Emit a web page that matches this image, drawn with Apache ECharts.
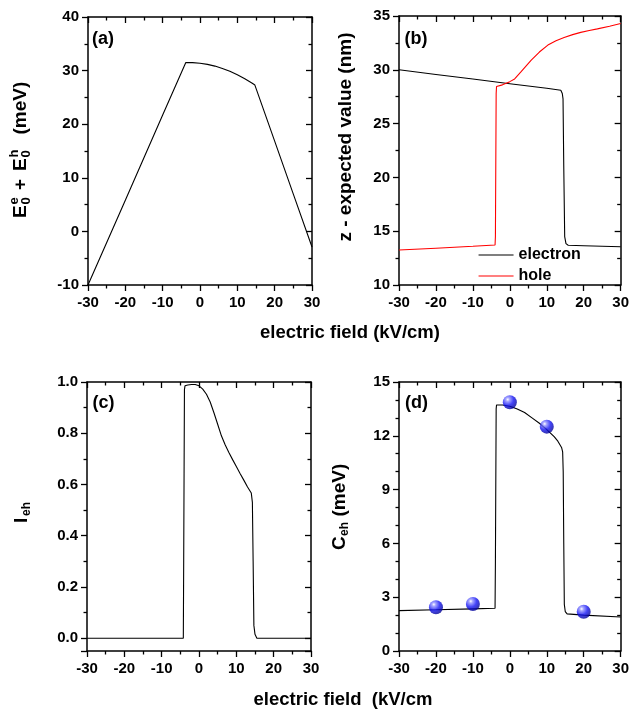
<!DOCTYPE html>
<html>
<head>
<meta charset="utf-8">
<script src="https://cdn.jsdelivr.net/npm/echarts@6/dist/echarts.min.js"></script>
<style>
  html, body { margin: 0; padding: 0; background: #fff; }
  #chart { width: 632px; height: 710px; }
</style>
</head>
<body>
<div id="chart"></div>
<script>
// ---- data -------------------------------------------------------------
// (a) ground-state energy sum vs electric field
const fieldA  = [-30, -20, -10, -3.8, -2, 0, 2, 4, 6, 8, 10, 12, 14, 14.7, 20, 25, 30];
const energyA = [-10, 5.8, 21.7, 31.5, 31.49, 31.38, 31.16, 30.84, 30.41, 29.88, 29.23, 28.48, 27.63, 27.3, 16.85, 6.95, -2.9];

// (b) z expected values of electron and hole
const fieldElectron = [-30, -20, -10, 0, 10, 13.8, 14.2, 14.4, 14.6, 14.85, 15.2, 15.8, 20, 30];
const zElectron     = [30.0, 29.57, 29.14, 28.71, 28.28, 28.1, 27.8, 27.3, 21.0, 14.5, 13.85, 13.7, 13.65, 13.55];
const fieldHole = [-30, -20, -10, -4.0, -3.9, -3.7, -3.6, -2, 0, 1.3, 3, 5.8, 8, 10.3, 12.5, 14.7, 17, 19.2, 21.5, 23.7, 27, 30];
const zHole     = [13.25, 13.42, 13.6, 13.72, 14.5, 27.8, 28.45, 28.6, 28.9, 29.15, 29.8, 30.9, 31.65, 32.3, 32.7, 33.0, 33.27, 33.48, 33.65, 33.8, 34.05, 34.3];

// (c) electron-hole overlap
const fieldC   = [-30, -4.2, -4.1, -3.9, -3.75, -3, -2, -1, 0, 1, 2, 3, 4, 5, 6, 7, 8, 9, 10, 11, 12, 13, 14, 14.1, 14.3, 14.5, 14.7, 15.0, 15.5, 30];
const overlapC = [0, 0, 0.3, 0.97, 0.985, 0.988, 0.99, 0.99, 0.985, 0.972, 0.952, 0.922, 0.88, 0.835, 0.79, 0.755, 0.725, 0.697, 0.67, 0.643, 0.617, 0.59, 0.567, 0.564, 0.53, 0.3, 0.05, 0.015, 0, 0];

// (d) Coulomb energy: calculated curve and points
const fieldD   = [-30, -20, -10, -4.0, -3.9, -3.7, -3.6, -2, 0, 2, 4, 6, 8, 10, 12, 13, 14, 14.3, 14.45, 14.6, 14.75, 15.0, 15.5, 20, 30];
const coulombD = [2.25, 2.3, 2.35, 2.38, 5.0, 13.5, 13.72, 13.72, 13.65, 13.5, 13.3, 13.0, 12.7, 12.35, 11.95, 11.7, 11.35, 11.1, 10.0, 6.0, 2.6, 2.2, 2.07, 2.0, 1.9];
const pointField   = [-20, -10, 0, 10, 20];
const pointCoulomb = [2.44, 2.62, 13.87, 12.51, 2.19];

// axis ranges
const fieldTicks   = { min: -30, max: 30, step: 10 };
const overlapRange = { min: -0.05, max: 1.0, splitNumber: 5 };

const seriesNames = ['electron', 'hole'];

// ---- helpers ----------------------------------------------------------
const FONT = '"Liberation Sans", Arial, Helvetica, sans-serif';
const pairs = (xs, ys) => xs.map((x, i) => [x, ys[i]]);
const black = '#000';

function axisBase(gridIndex, pos, inside, showLabel) {
  return {
    type: 'value', gridIndex: gridIndex, position: pos,
    axisLine: { show: true, onZero: false, lineStyle: { color: black, width: 1.5 } },
    axisTick: { show: true, inside: inside, length: 6, lineStyle: { color: black, width: 1.3 } },
    minorTick: { show: true, splitNumber: 2, length: 3.5, lineStyle: { color: black, width: 1.3 } },
    axisLabel: { show: showLabel, color: black, fontFamily: FONT, fontWeight: 'bold', fontSize: 15, margin: 9 },
    splitLine: { show: false }
  };
}

function xPair(gridIndex) {
  const bottom = axisBase(gridIndex, 'bottom', false, true);
  const top = axisBase(gridIndex, 'top', true, false);
  [bottom, top].forEach(a => { a.min = fieldTicks.min; a.max = fieldTicks.max; a.interval = fieldTicks.step; });
  bottom.axisLabel.margin = 10;
  return [bottom, top];
}

function yPair(gridIndex, min, max, interval, minorSplit) {
  const left = axisBase(gridIndex, 'left', false, true);
  const right = axisBase(gridIndex, 'right', true, false);
  [left, right].forEach(a => {
    a.min = min; a.max = max; a.interval = interval;
    a.minorTick.splitNumber = minorSplit;
  });
  return [left, right];
}

// (c) starts a little below zero; the scale picks 0.2 steps from 0 up
function yOverlapAxes(gridIndex) {
  return [['left', false], ['right', true]].map(([pos, inside]) => {
    const ax = axisBase(gridIndex, pos, inside, pos === 'left');
    ax.min = overlapRange.min; ax.max = overlapRange.max;
    ax.splitNumber = overlapRange.splitNumber;
    ax.axisLabel.showMinLabel = false;
    ax.axisLabel.formatter = v => (v < 0 ? '' : v.toFixed(1));
    return ax;
  });
}

// vertical axis titles built from pieces (for sub/superscripts)
function rotatedTitle(cx, cy, parts) {
  return {
    type: 'group', x: cx, y: cy, rotation: Math.PI / 2, silent: true,
    children: parts.map(p => ({
      type: 'text', x: p.x, y: p.y || 0,
      style: {
        text: p.t, fill: black,
        font: 'bold ' + p.s + 'px ' + FONT,
        textAlign: p.align || 'left', align: p.align || 'left',
        textVerticalAlign: 'middle', verticalAlign: 'middle'
      }
    }))
  };
}

function plainText(x, y, text, size) {
  return {
    type: 'text', x: x, y: y, silent: true,
    style: {
      text: text, fill: black, font: 'bold ' + size + 'px ' + FONT,
      textAlign: 'center', align: 'center',
      textVerticalAlign: 'middle', verticalAlign: 'middle'
    }
  };
}

// ---- chart ------------------------------------------------------------
const chart = echarts.init(document.getElementById('chart'), null, { renderer: 'canvas' });

const xAxes = [].concat(xPair(0), xPair(1), xPair(2), xPair(3));
const yAxes = [].concat(
  yPair(0, -10, 40, 10, 2),      // 0,1
  yPair(1, 10, 35, 5, 2),        // 2,3
  yOverlapAxes(2),               // 4,5
  yPair(3, 0, 15, 3, 3)          // 6,7
);

const lineStyle = { color: black, width: 1.1 };

const option = {
  animation: false,
  backgroundColor: '#fff',
  grid: [
    { left: 88,  top: 17,  width: 224, height: 268 },
    { left: 399, top: 16,  width: 224, height: 269 },
    { left: 87,  top: 382, width: 224, height: 269 },
    { left: 399, top: 382, width: 224, height: 269 }
  ],
  xAxis: xAxes,
  yAxis: yAxes,
  legend: {
    data: seriesNames, orient: 'vertical', left: 478, top: 247, padding: 0,
    itemWidth: 35, itemHeight: 12, itemGap: 5,
    itemStyle: { opacity: 0 },
    lineStyle: { width: 1.1 },
    textStyle: { color: black, fontFamily: FONT, fontWeight: 'bold', fontSize: 16 },
    selectedMode: false
  },
  series: [
    { type: 'line', xAxisIndex: 0, yAxisIndex: 0, data: pairs(fieldA, energyA),
      symbol: 'none', lineStyle: lineStyle, itemStyle: { color: black } },
    { name: seriesNames[0], type: 'line', xAxisIndex: 2, yAxisIndex: 2, data: pairs(fieldElectron, zElectron),
      symbol: 'none', lineStyle: lineStyle, itemStyle: { color: black } },
    { name: seriesNames[1], type: 'line', xAxisIndex: 2, yAxisIndex: 2, data: pairs(fieldHole, zHole),
      symbol: 'none', lineStyle: { color: '#ff0000', width: 1.1 }, itemStyle: { color: '#ff0000' } },
    { type: 'line', xAxisIndex: 4, yAxisIndex: 4, data: pairs(fieldC, overlapC),
      symbol: 'none', lineStyle: lineStyle, itemStyle: { color: black } },
    { type: 'line', xAxisIndex: 6, yAxisIndex: 6, data: pairs(fieldD, coulombD),
      symbol: 'none', lineStyle: lineStyle, itemStyle: { color: black } },
    { type: 'scatter', xAxisIndex: 6, yAxisIndex: 6, data: pairs(pointField, pointCoulomb),
      symbol: 'circle', symbolSize: 14, z: 5,
      itemStyle: {
        color: { type: 'radial', x: 0.35, y: 0.3, r: 0.75, colorStops: [
          { offset: 0, color: '#ffffff' },
          { offset: 0.18, color: '#9090ff' },
          { offset: 0.55, color: '#1414f5' },
          { offset: 1, color: '#00008c' }
        ] }
      } }
  ],
  graphic: [
    plainText(103, 39.5, '(a)', 18),
    plainText(416, 39.5, '(b)', 18),
    plainText(103.5, 403.5, '(c)', 18),
    plainText(416.5, 403.5, '(d)', 18),
    plainText(350, 333, 'electric field (kV/cm)', 18.5),
    plainText(343, 700, 'electric field  (kV/cm', 18.5),
    rotatedTitle(21, 149, [
      { t: 'E', s: 19, x: -69 },
      { t: 'e', s: 13, x: -55.5, y: -7 },
      { t: '0', s: 13, x: -55.5, y: 5 },
      { t: '+', s: 19, x: -41 },
      { t: 'E', s: 19, x: -22 },
      { t: 'h', s: 13, x: -8.5, y: -7 },
      { t: '0', s: 13, x: -8.5, y: 5 },
      { t: '(meV)', s: 19, x: 14.5 }
    ]),
    rotatedTitle(346, 137, [
      { t: 'z - expected value (nm)', s: 19, x: 0, align: 'center' }
    ]),
    rotatedTitle(21.5, 510, [
      { t: 'I', s: 19, x: -13 },
      { t: 'eh', s: 12, x: -6, y: 5 }
    ]),
    rotatedTitle(339.5, 507.5, [
      { t: 'C', s: 19, x: -42.5 },
      { t: 'eh', s: 12, x: -28.5, y: 5 },
      { t: '(meV)', s: 19, x: -9 }
    ])
  ]
};

chart.setOption(option);
</script>
</body>
</html>
